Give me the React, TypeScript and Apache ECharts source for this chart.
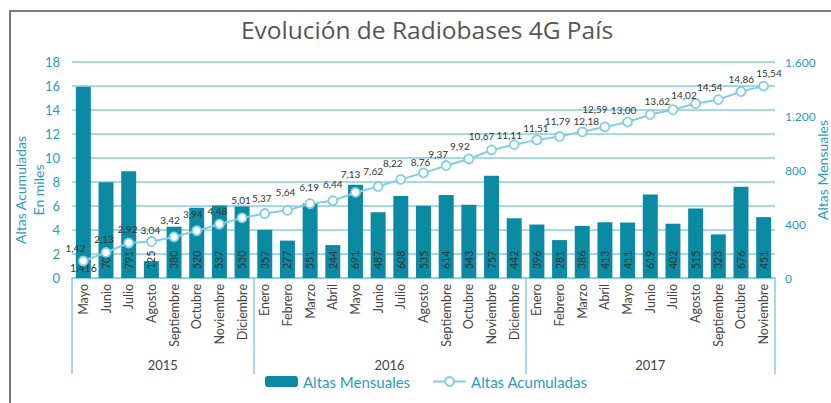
import React, { useEffect, useRef } from 'react';
import * as echarts from 'echarts';

const categories = [
  'Mayo', 'Junio', 'Julio', 'Agosto', 'Septiembre', 'Octubre', 'Noviembre', 'Diciembre',
  'Enero', 'Febrero', 'Marzo', 'Abril', 'Mayo', 'Junio', 'Julio', 'Agosto', 'Septiembre', 'Octubre', 'Noviembre', 'Diciembre',
  'Enero', 'Febrero', 'Marzo', 'Abril', 'Mayo', 'Junio', 'Julio', 'Agosto', 'Septiembre', 'Octubre', 'Noviembre',
];
const years = ['2015', '2016', '2017'];
const monthsPerYear = [8, 12, 11];

const altasMensuales = [
  1416, 709, 791, 125, 380, 520, 537, 530,
  357, 277, 551, 244, 691, 487, 608, 535, 614, 543, 757, 442,
  396, 281, 386, 413, 411, 619, 402, 515, 323, 676, 451,
];
const altasAcumuladas = [
  1.42, 2.13, 2.92, 3.04, 3.42, 3.94, 4.48, 5.01,
  5.37, 5.64, 6.19, 6.44, 7.13, 7.62, 8.22, 8.76, 9.37, 9.92, 10.67, 11.11,
  11.51, 11.79, 12.18, 12.59, 13.0, 13.62, 14.02, 14.54, 14.86, 15.54, 15.99,
];
const leftAxis = { min: 0, max: 18, interval: 2 };
const rightAxis = { min: 0, max: 1600, interval: 400 };

const TEAL = '#0b8aa3';
const LIGHT = '#86cde2';
const AXIS_TEXT = '#2a9cc2';
const FONT = 'Lato, "Open Sans", sans-serif';

const fmtThousands = (v: number) => {
  const n = Math.round(v);
  if (n >= 1000) return Math.floor(n / 1000) + '.' + String(n % 1000).padStart(3, '0');
  return String(n);
};
const fmtDec = (v: number) => v.toFixed(2).replace('.', ',');

export default function App() {
  const ref = useRef<HTMLDivElement>(null);
  useEffect(() => {
    if (!ref.current) return;
    const chart = echarts.init(ref.current, undefined, { renderer: 'svg' });

    const gridLeft = 72;
    const gridRight = 56;
    const band = (831 - gridLeft - gridRight) / categories.length;

    // label nudges (dx, dy) relative to each point, as placed in the reference
    const nudges: [number, number][] = [
      [-8, -12], [-2, -13], [-1, -13], [-1, -11], [-4, -16], [-4, -16], [-2, -12], [-1, -17],
      [-3, -15], [-2, -17], [-1, -16], [0, -16], [-5, -18], [-5, -15], [-8, -15], [-3, -10],
      [-8, -11], [-9, -12], [-10, -13], [-5, -9], [-1, -11], [-2, -15], [4, -10], [-10, -17],
      [-4, -11], [7, -13], [11, -14], [14, -16], [23, -20], [28, -18], [0, 0],
    ];

    const yearOfCat: string[] = [];
    const boundaries: number[] = [];
    const centres: { idx: number; shift: boolean; year: string }[] = [];
    let start = 0;
    years.forEach((y, k) => {
      const n = monthsPerYear[k];
      boundaries.push(start);
      for (let i = 0; i < n; i++) yearOfCat.push(y);
      const mid = start + n / 2;
      if (Number.isInteger(mid)) centres.push({ idx: mid - 1, shift: true, year: y });
      else centres.push({ idx: Math.floor(mid), shift: false, year: y });
      start += n;
    });

    const barData = altasMensuales.map((v, i) =>
      i === 0
        ? { value: v, label: { rotate: 0, align: 'center', verticalAlign: 'bottom', distance: 5 } }
        : v
    );
    const lineData = altasAcumuladas.map((v, i) => {
      if (i === altasAcumuladas.length - 1) return { value: v, label: { show: false } };
      const [dx, dy] = nudges[i];
      return { value: v, label: { offset: [dx, dy + 4.5] } };
    });

    chart.setOption({
      animation: false,
      backgroundColor: '#ffffff',
      textStyle: { fontFamily: FONT },
      title: {
        text: 'Evolución de Radiobases 4G País',
        left: 236,
        top: 12,
        textStyle: { fontFamily: '"Open Sans", sans-serif', fontSize: 24.5, fontWeight: 500, color: '#555555' },
      },
      graphic: [
        {
          type: 'rect',
          shape: { x: 10, y: 11, width: 900, height: 500 },
          style: { fill: 'none', stroke: '#7a7a7a', lineWidth: 2 },
          silent: true,
        },
      ],
      legend: {
        bottom: 9,
        left: 260,
        itemWidth: 33,
        itemHeight: 11,
        itemGap: 22,
        textStyle: { color: AXIS_TEXT, fontSize: 15, fontFamily: FONT },
        data: ['Altas Mensuales', 'Altas Acumuladas'],
      },
      grid: { left: gridLeft, right: gridRight, top: 62, bottom: 125, containLabel: false, outerBoundsMode: 'none' },
      xAxis: [
        {
          type: 'category',
          data: categories,
          position: 'bottom',
          axisLine: { show: true, lineStyle: { color: LIGHT, width: 1.5 } },
          axisTick: { show: false },
          axisLabel: { rotate: 90, margin: 6, color: '#444', fontSize: 12.5, fontFamily: FONT, interval: 0 },
        },
        {
          type: 'category',
          data: yearOfCat,
          position: 'bottom',
          offset: 0,
          axisLine: { show: false },
          axisTick: {
            show: true,
            length: 96,
            alignWithLabel: false,
            interval: (index: number) => boundaries.includes(index),
            lineStyle: { color: LIGHT, width: 1.5 },
          },
          axisLabel: {
            margin: 80,
            color: '#444',
            fontSize: 13,
            fontFamily: FONT,
            interval: (index: number) => centres.some((c) => c.idx === index),
            formatter: (value: string, index: number) => {
              const c = centres.find((cc) => cc.idx === index);
              if (!c) return '';
              return c.shift ? '{s|' + c.year + '}' : '{n|' + c.year + '}';
            },
            rich: {
              s: { padding: [0, 0, 0, band], fontSize: 13, color: '#444', fontFamily: FONT },
              n: { fontSize: 13, color: '#444', fontFamily: FONT },
            },
          },
          splitLine: { show: false },
        },
      ],
      yAxis: [
        {
          type: 'value',
          ...leftAxis,
          position: 'left',
          name: 'Altas Acumuladas\nEn miles',
          nameLocation: 'middle',
          nameGap: 25,
          nameRotate: 90,
          nameMoveOverlap: false,
          nameTextStyle: { color: AXIS_TEXT, fontSize: 14, fontFamily: FONT, lineHeight: 18, padding: [0, 40, 0, 0] },
          axisLine: { show: false },
          axisTick: { show: false },
          axisLabel: { color: AXIS_TEXT, fontSize: 13, margin: 12, fontFamily: FONT },
          splitLine: { show: true, lineStyle: { color: LIGHT, width: 1.5 } },
        },
        {
          type: 'value',
          ...rightAxis,
          position: 'right',
          name: 'Altas Mensuales',
          nameLocation: 'middle',
          nameGap: 40,
          nameRotate: 90,
          nameMoveOverlap: false,
          nameTextStyle: { color: AXIS_TEXT, fontSize: 14, lineHeight: 14, fontFamily: FONT },
          axisLine: { show: false },
          axisTick: { show: false },
          axisLabel: { color: AXIS_TEXT, fontSize: 12, margin: 10, fontFamily: FONT, formatter: (v: number) => fmtThousands(v) },
          splitLine: { show: false },
        },
      ],
      series: [
        {
          name: 'Altas Mensuales',
          type: 'bar',
          xAxisIndex: 0,
          yAxisIndex: 1,
          data: barData,
          barWidth: '66%',
          itemStyle: { color: TEAL },
          label: {
            show: true,
            position: 'insideBottom',
            rotate: 90,
            align: 'left',
            verticalAlign: 'middle',
            distance: 9,
            color: '#333',
            fontSize: 10.5,
            fontFamily: FONT,
            formatter: (p: any) => fmtThousands(p.value),
          },
          z: 2,
        },
        {
          name: 'Altas Acumuladas',
          type: 'line',
          xAxisIndex: 0,
          yAxisIndex: 0,
          data: lineData,
          symbol: 'circle',
          symbolSize: 9,
          lineStyle: { color: LIGHT, width: 2 },
          itemStyle: { color: '#ffffff', borderColor: LIGHT, borderWidth: 1.8 },
          label: {
            show: true,
            position: 'top',
            distance: 0,
            verticalAlign: 'middle',
            color: '#333',
            fontSize: 10,
            fontFamily: FONT,
            formatter: (p: any) => fmtDec(p.value),
          },
          z: 3,
        },
      ],
    });
    return () => chart.dispose();
  }, []);
  return <div ref={ref} style={{ position: 'absolute', left: 0, top: 0, width: 831, height: 403 }} />;
}
